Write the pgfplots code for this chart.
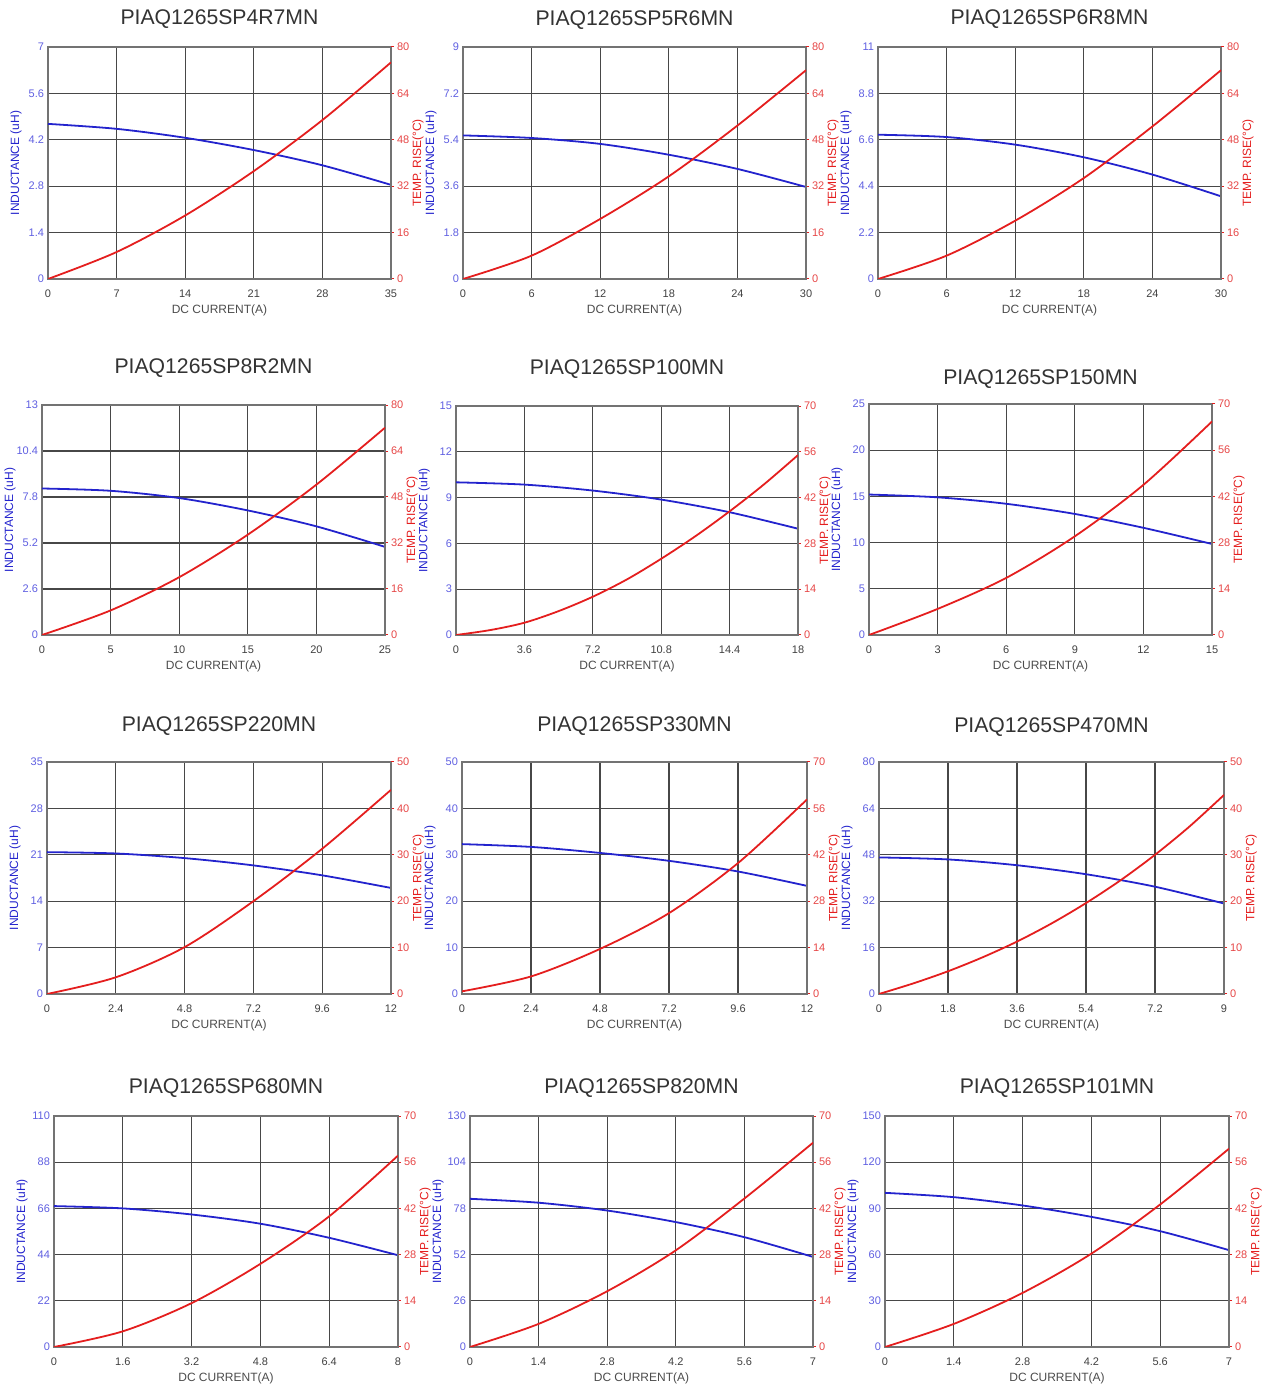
\documentclass[border=0pt]{standalone}
\usepackage{fontspec}
\setmainfont{Liberation Sans}
\usepackage{pgfplots}
\pgfplotsset{compat=1.18}
\definecolor{indblue}{RGB}{35,35,205}
\definecolor{tempred}{RGB}{228,30,30}
\definecolor{labblue}{RGB}{95,95,225}
\definecolor{labred}{RGB}{230,70,70}
\newcommand{\tickfont}{\fontsize{5.5}{6}\selectfont}
\newcommand{\labfont}{\fontsize{6}{6}\selectfont}

\pgfplotsset{
  panelbase/.style={scale only axis, anchor=south west, xmin=0, ymin=0,
    /pgf/number format/assume math mode=true,
    axis line style={black!55, line width=0.7pt}},
  indaxis/.style={panelbase, grid=major,
    major grid style={black!72, line width=0.55pt},
    tick style={draw=none},
    xticklabel style={font=\tickfont, text=black!75, yshift=-2pt},
    yticklabel style={font=\tickfont, text=labblue, xshift=1.5pt},
    xlabel={DC CURRENT(A)},
    xlabel style={at={(axis description cs:0.5,0)}, anchor=center, yshift=-15.5pt,
      font=\labfont, text=black!70},
    ylabel={INDUCTANCE (uH)},
    ylabel style={at={(axis description cs:-0.093,0.5)}, anchor=center,
      font=\labfont, text=indblue},
    title style={at={(0.5,1)}, anchor=base, font=\fontsize{10.6}{12}\selectfont, text=black!80}},
  tempaxis/.style={panelbase, axis y line*=right, axis x line=none,
    ytick style={draw=tempred, line width=0.5pt}, tick align=outside, major tick length=1.5pt,
    yticklabel style={font=\tickfont, text=labred, xshift=-2pt},
    ylabel={TEMP. RISE(°C)},
    ylabel style={at={(axis description cs:1.079,0.5)}, anchor=center,
      font=\labfont, text=tempred}},
}

% #1 place and size, #2 title, #3 title lift, #4 inductance axis, #5 inductance data,
% #6 temperature axis, #7 temperature data
\newcommand{\panel}[7]{%
  \begin{axis}[indaxis, #1, title={#2}, title style={yshift=#3}, #4]
    \addplot[indblue, line width=0.9pt, smooth] coordinates {#5};
  \end{axis}
  \begin{axis}[tempaxis, #1, #6]
    \addplot[tempred, line width=0.9pt, smooth] coordinates {#7};
  \end{axis}}

\begin{document}
\begin{tikzpicture}
\path[use as bounding box] (0,0) rectangle (635.5pt,692.5pt);

% row 1
\panel{at={(24pt,553pt)}, width=171.5pt, height=116pt, xmax=35}{PIAQ1265SP4R7MN}{5pt}
  {xtick={0,7,14,21,28,35}, ymax=7, ytick={0,1.4,2.8,4.2,5.6,7}}
  {(0,4.68) (7,4.53) (14,4.26) (21,3.89) (28,3.43) (35,2.84)}
  {ymax=80, ytick={0,16,32,48,64,80}}
  {(0,0) (7,9.3) (14,21.9) (21,37.2) (28,54.8) (35,74.7)}
\panel{at={(231.5pt,553pt)}, width=171.5pt, height=116pt, xmax=30}{PIAQ1265SP5R6MN}{5pt}
  {xtick={0,6,12,18,24,30}, ymax=9, ytick={0,1.8,3.6,5.4,7.2,9}}
  {(0,5.57) (6,5.47) (12,5.24) (18,4.82) (24,4.27) (30,3.57)}
  {ymax=80, ytick={0,16,32,48,64,80}}
  {(0,0) (6,8.05) (12,20.7) (18,35.4) (24,52.9) (30,72.0)}
\panel{at={(439pt,553pt)}, width=171.5pt, height=116pt, xmax=30}{PIAQ1265SP6R8MN}{5pt}
  {xtick={0,6,12,18,24,30}, ymax=11, ytick={0,2.2,4.4,6.6,8.8,11}}
  {(0,6.84) (6,6.73) (12,6.37) (18,5.77) (24,4.95) (30,3.92)}
  {ymax=80, ytick={0,16,32,48,64,80}}
  {(0,0) (6,8.05) (12,20.1) (18,34.8) (24,52.6) (30,72.0)}

% row 2
\panel{at={(21pt,375pt)}, width=171.5pt, height=115pt, xmax=25}{PIAQ1265SP8R2MN}{9.5pt}
  {xtick={0,5,10,15,20,25}, ymax=13, ytick={0,2.6,5.2,7.8,10.4,13}}
  {(0,8.28) (5,8.15) (10,7.74) (15,7.04) (20,6.14) (25,4.98)}
  {ymax=80, ytick={0,16,32,48,64,80}}
  {(0,0) (5,8.55) (10,20.1) (15,34.9) (20,52.3) (25,72.1)}
\panel{at={(228pt,375pt)}, width=171pt, height=114.5pt, xmax=18}{PIAQ1265SP100MN}{9.5pt}
  {xtick={0,3.6,7.2,10.8,14.4,18}, ymax=15, ytick={0,3,6,9,12,15}}
  {(0,10.0) (3.6,9.85) (7.2,9.46) (10.8,8.87) (14.4,8.04) (18,6.96)}
  {ymax=70, ytick={0,14,28,42,56,70}}
  {(0,0) (1.8,1.5) (3.6,3.75) (5.4,7.3) (7.2,11.7) (9,17.0) (10.8,23.3) (12.6,30.2)
   (14.4,37.8) (16.2,46.0) (18,55.0)}
\panel{at={(434.5pt,375pt)}, width=171.5pt, height=115.5pt, xmax=15}{PIAQ1265SP150MN}{3.5pt}
  {xtick={0,3,6,9,12,15}, ymax=25, ytick={0,5,10,15,20,25}}
  {(0,15.2) (3,14.9) (6,14.2) (9,13.1) (12,11.6) (15,9.85)}
  {ymax=70, ytick={0,14,28,42,56,70}}
  {(0,0) (3,7.9) (6,17.3) (9,29.9) (12,45.5) (15,64.7)}

% row 3
\panel{at={(23.5pt,195.5pt)}, width=172pt, height=116pt, xmax=12}{PIAQ1265SP220MN}{9pt}
  {xtick={0,2.4,4.8,7.2,9.6,12}, ymax=35, ytick={0,7,14,21,28,35}}
  {(0,21.4) (2.4,21.2) (4.8,20.5) (7.2,19.4) (9.6,17.9) (12,16.0)}
  {ymax=50, ytick={0,10,20,30,40,50}}
  {(0,0) (2.4,3.6) (4.8,10.1) (7.2,20.0) (9.6,31.3) (12,44.0)}
\panel{at={(231pt,195.5pt)}, width=172.5pt, height=116pt, xmax=12}{PIAQ1265SP330MN}{9pt}
  {xtick={0,2.4,4.8,7.2,9.6,12}, ymax=50, ytick={0,10,20,30,40,50}}
  {(0,32.3) (2.4,31.7) (4.8,30.4) (7.2,28.7) (9.6,26.4) (12,23.3)}
  {ymax=70, ytick={0,14,28,42,56,70}}
  {(0,0.8) (2.4,5.3) (4.8,13.6) (7.2,24.4) (9.6,39.5) (12,58.7)}
\panel{at={(439.5pt,195.5pt)}, width=172.5pt, height=116pt, xmax=9}{PIAQ1265SP470MN}{9pt}
  {xtick={0,1.8,3.6,5.4,7.2,9}, ymax=80, ytick={0,16,32,48,64,80}}
  {(0,47.1) (1.8,46.4) (3.6,44.4) (5.4,41.3) (7.2,37.0) (9,31.2)}
  {ymax=50, ytick={0,10,20,30,40,50}}
  {(0,0) (0.9,2.3) (1.8,4.9) (2.7,7.9) (3.6,11.3) (4.5,15.2) (5.4,19.6) (6.3,24.5)
   (7.2,30.0) (8.1,36.1) (9,42.9)}

% row 4
\panel{at={(27pt,19pt)}, width=172pt, height=115.5pt, xmax=8}{PIAQ1265SP680MN}{5pt}
  {xtick={0,1.6,3.2,4.8,6.4,8}, ymax=110, ytick={0,22,44,66,88,110}}
  {(0,67.1) (1.6,66) (3.2,63.1) (4.8,58.7) (6.4,52) (8,43.7)}
  {ymax=70, ytick={0,14,28,42,56,70}}
  {(0,0) (1.6,4.75) (3.2,13.3) (4.8,25.2) (6.4,39.6) (8,58)}
\panel{at={(235pt,19pt)}, width=171.5pt, height=115.5pt, xmax=7}{PIAQ1265SP820MN}{5pt}
  {xtick={0,1.4,2.8,4.2,5.6,7}, ymax=130, ytick={0,26,52,78,104,130}}
  {(0,83.4) (1.4,81.2) (2.8,76.8) (4.2,70.3) (5.6,61.8) (7,50.7)}
  {ymax=70, ytick={0,14,28,42,56,70}}
  {(0,0) (1.4,7.0) (2.8,16.9) (4.2,29.3) (5.6,45.0) (7,61.9)}
\panel{at={(442.5pt,19pt)}, width=172pt, height=115.5pt, xmax=7}{PIAQ1265SP101MN}{5pt}
  {xtick={0,1.4,2.8,4.2,5.6,7}, ymax=150, ytick={0,30,60,90,120,150}}
  {(0,100.1) (1.4,97.3) (2.8,91.9) (4.2,84.5) (5.6,75.2) (7,62.9)}
  {ymax=70, ytick={0,14,28,42,56,70}}
  {(0,0) (1.4,7.0) (2.8,16.4) (4.2,28.3) (5.6,43.2) (7,60.1)}
\end{tikzpicture}
\end{document}
